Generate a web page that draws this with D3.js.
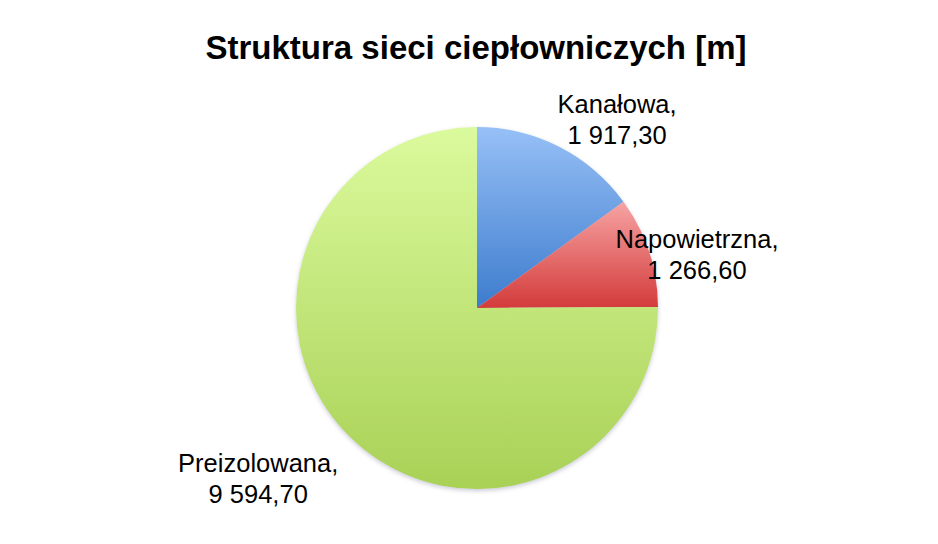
<!DOCTYPE html>
<html>
<head>
<meta charset="utf-8">
<script src="https://cdn.jsdelivr.net/npm/d3@7"></script>
<style>
  html, body { margin: 0; padding: 0; background: #fff; }
  svg { display: block; font-family: "Liberation Sans", Arial, sans-serif; }
</style>
</head>
<body>
<svg id="chart" width="938" height="544"></svg>
<script>
const categories = ["Kanałowa", "Napowietrzna", "Preizolowana"];
const values = [1917.30, 1266.60, 9594.70];
const valueLabels = ["1 917,30", "1 266,60", "9 594,70"];

const svg = d3.select("svg#chart");
const width = +svg.attr("width");
const height = +svg.attr("height");
const cx = 477, cy = 308, radius = 181;

// gradient colours per slice (top -> bottom)
const gradStops = [
    ["#97c0f7", "#3d7ccd"],
    ["#f7a3a3", "#d33b3b"],
    ["#dbfa9d", "#a9d156"]
];
// label offsets from the arc centroid
const labelOffsets = [[99, -114], [134, -32], [-155, 100]];

const defs = svg.append("defs");
gradStops.forEach((s, i) => {
    const g = defs.append("linearGradient")
        .attr("id", "grad" + i)
        .attr("x1", 0).attr("y1", 0).attr("x2", 0).attr("y2", 1);
    g.append("stop").attr("offset", "0%").attr("stop-color", s[0]);
    g.append("stop").attr("offset", "100%").attr("stop-color", s[1]);
});
const shadow = defs.append("filter").attr("id", "shadow")
    .attr("x", "-10%").attr("y", "-10%").attr("width", "120%").attr("height", "120%");
shadow.append("feDropShadow")
    .attr("dx", 0).attr("dy", 2).attr("stdDeviation", 2)
    .attr("flood-color", "#6a6a8a").attr("flood-opacity", 0.35);

svg.append("text")
    .attr("x", 476)
    .attr("y", 59)
    .attr("text-anchor", "middle")
    .attr("font-size", 33)
    .attr("font-weight", "bold")
    .attr("fill", "#000")
    .text("Struktura sieci ciepłowniczych [m]");

const pie = d3.pie().sort(null).value(d => d);
const arcs = pie(values);
const arc = d3.arc().innerRadius(0).outerRadius(radius);

const chartArea = svg.append("g")
    .attr("transform", `translate(${cx},${cy})`);

chartArea.append("g").attr("filter", "url(#shadow)")
    .selectAll("path.slice")
    .data(arcs)
    .join("path")
    .attr("class", "slice")
    .attr("d", arc)
    .attr("fill", (d, i) => `url(#grad${i})`);

const labels = chartArea.selectAll("text.label")
    .data(arcs)
    .join("text")
    .attr("class", "label")
    .attr("text-anchor", "middle")
    .attr("font-size", 25.5)
    .attr("fill", "#000")
    .attr("transform", (d, i) => {
        const c = arc.centroid(d);
        return `translate(${c[0] + labelOffsets[i][0]},${c[1] + labelOffsets[i][1]})`;
    });
labels.append("tspan").attr("x", 0).attr("y", 0).text((d, i) => categories[i] + ",");
labels.append("tspan").attr("x", 0).attr("y", 31).text((d, i) => valueLabels[i]);
</script>
</body>
</html>
